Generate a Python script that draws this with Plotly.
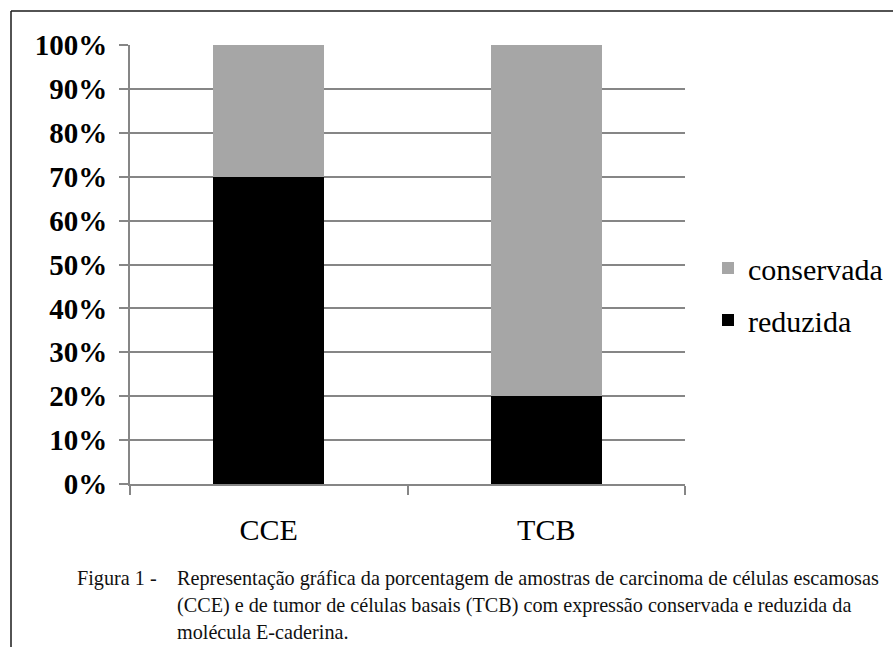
import plotly.graph_objects as go

categories = ["CCE", "TCB"]
reduzida = [70, 20]
conservada = [30, 80]
caption_lines = [
    "Representação gráfica da porcentagem de amostras de carcinoma de células escamosas",
    "(CCE) e de tumor de células basais (TCB) com expressão conservada e reduzida da",
    "molécula E-caderina.",
]

W, H = 893, 647
L, R, T, B = 130, 208, 45, 163
PW, PH = W - L - R, H - T - B

def px(x):
    return (x - L) / PW

def py(y):
    return (H - B - y) / PH

serif = "Liberation Serif"
grid = "#868686"

fig = go.Figure()
fig.add_trace(go.Bar(x=categories, y=reduzida, name="reduzida", marker=dict(color="#000000", line=dict(width=0)),
                     legendgroup="r", legendrank=2))
fig.add_trace(go.Bar(x=categories, y=conservada, name="conservada", marker=dict(color="#a6a6a6", line=dict(width=0)),
                     legendgroup="c", legendrank=1))

fig.update_layout(
    width=W, height=H,
    margin=dict(l=L, r=R, t=T, b=B, autoexpand=False),
    paper_bgcolor="white", plot_bgcolor="white",
    barmode="stack", bargap=0.6,
    font=dict(family=serif, color="black"),
    legend=dict(x=px(708), y=py(294), xanchor="left", yanchor="middle",
                traceorder="grouped", tracegroupgap=10,
                font=dict(size=30, family=serif, color="black"), itemwidth=30),
    showlegend=True,
)
fig.update_yaxes(range=[0, 100], dtick=10, ticksuffix="%",
                 showgrid=True, gridcolor=grid, gridwidth=1.5,
                 showline=True, linecolor=grid, linewidth=2,
                 ticks="outside", ticklen=9, tickcolor=grid, tickwidth=2,
                 ticklabelstandoff=6, tickfont=dict(size=29, family=serif, weight="bold", color="black"),
                 zeroline=False, fixedrange=True, automargin=False)
fig.update_xaxes(showline=True, linecolor=grid, linewidth=2,
                 ticks="outside", tickson="boundaries", ticklen=9, tickcolor=grid, tickwidth=2,
                 ticklabelstandoff=18, tickfont=dict(size=30, family=serif, color="black"),
                 fixedrange=True, automargin=False)

# frame
fig.add_shape(type="line", xref="paper", yref="paper", x0=px(11), x1=px(11), y0=py(11), y1=py(660),
              line=dict(color="#1a1a1a", width=1.5))
fig.add_shape(type="line", xref="paper", yref="paper", x0=px(11), x1=px(900), y0=py(11), y1=py(11),
              line=dict(color="#1a1a1a", width=1.5))

cap_font = dict(size=20.2, family=serif, color="#111111")
fig.add_annotation(text="Figura 1 -", xref="paper", yref="paper", x=px(75), y=py(578),
                   xanchor="left", yanchor="middle", showarrow=False, font=cap_font)
for i, line in enumerate(caption_lines):
    fig.add_annotation(text=line, xref="paper", yref="paper", x=px(175), y=py(578 + 27 * i),
                       xanchor="left", yanchor="middle", showarrow=False, font=cap_font)

fig.write_html("out.html", config={"displayModeBar": False},
               post_script="document.body.style.margin='0';document.body.style.overflow='hidden';")
